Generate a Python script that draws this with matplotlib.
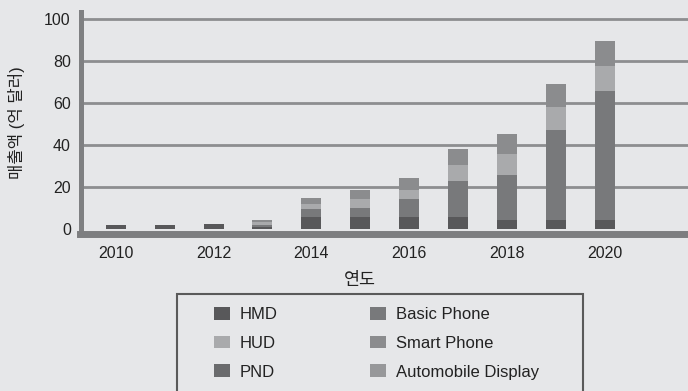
import numpy as np
import matplotlib.pyplot as plt
from matplotlib.patches import Rectangle

plt.rcParams['font.family'] = ['Liberation Sans', 'Noto Sans CJK KR', 'DejaVu Sans']

years = [2010, 2011, 2012, 2013, 2014, 2015, 2016, 2017, 2018, 2019, 2020]

# 매출액 (억 달러), 응용 분야별
hmd = [2.0, 2.0, 2.5, 1.1, 5.7, 5.7, 5.7, 5.7, 4.3, 4.3, 4.3]
pnd = [0, 0, 0, 0, 0, 0, 0, 0, 0, 0, 0]
basic_phone = [0, 0, 0, 1.0, 3.8, 4.3, 8.6, 17.1, 21.4, 42.9, 61.4]
hud = [0, 0, 0, 1.0, 2.4, 4.3, 4.3, 7.6, 10.0, 11.0, 12.0]
smart_phone = [0, 0, 0, 1.3, 2.9, 4.3, 5.7, 7.6, 9.5, 11.0, 11.8]
auto_display = [0, 0, 0, 0, 0, 0, 0, 0, 0, 0, 0]

yticks = [0, 20, 40, 60, 80, 100]
xticks = [2010, 2012, 2014, 2016, 2018, 2020]

bg = '#e6e7e9'
fig = plt.figure(figsize=(6.88, 3.91), dpi=100, facecolor=bg)
ax = fig.add_axes([80.5/688, 1-233.5/391, 1-80.5/688, (233.5-12)/391])
ax.set_facecolor(bg)

# 아래에서 위로 쌓는 순서
stack = [
    ('HMD', hmd, '#58585a'),
    ('PND', pnd, '#6a6b6d'),
    ('Basic Phone', basic_phone, '#78797b'),
    ('HUD', hud, '#a9aaac'),
    ('Smart Phone', smart_phone, '#8b8c8e'),
    ('Automobile Display', auto_display, '#97989a'),
]
bars = {}
bottom = np.zeros(len(years))
for name, vals, col in stack:
    bars[name] = ax.bar(years, vals, width=0.41, bottom=bottom, color=col,
                        linewidth=0, zorder=3, label=name)
    bottom += np.array(vals)

for y in yticks[1:]:
    ax.axhline(y, color='#8d8e90', lw=2.0, zorder=1)

ax.set_xlim(2009.28, 2021.7)
ax.set_ylim(-2.14, 103.3)
ax.set_yticks(yticks)
ax.set_xticks(xticks)
ax.tick_params(length=0, labelsize=11.5, colors='#222222')
ax.tick_params(axis='x', pad=9)
ax.tick_params(axis='y', pad=7)

for s in ['top', 'right']:
    ax.spines[s].set_visible(False)
ax.spines['left'].set_linewidth(3.6)
ax.spines['left'].set_color('#7f8082')
ax.spines['bottom'].set_linewidth(5)
ax.spines['bottom'].set_color('#7d7e80')
ax.spines['left'].set_zorder(4)
ax.spines['bottom'].set_zorder(4)

fig.text(17/688, 1-123/391, '매출액 (억 달러)', rotation=90, ha='center', va='center',
         fontsize=12, color='#222222')
fig.text(360/688, 1-280/391, '연도', ha='center', va='center', fontsize=12.5, color='#222222')

# 범례 테두리 (아래쪽은 그림 밖으로 이어짐)
fig.patches.append(Rectangle((177/688, -0.1), (583-177)/688, (1-293.5/391)+0.1,
                             transform=fig.transFigure, fill=False,
                             edgecolor='#5a5a5a', linewidth=1.5))

order = ['HMD', 'HUD', 'PND', 'Basic Phone', 'Smart Phone', 'Automobile Display']
fig.legend([bars[n] for n in order], order, ncol=2, loc='upper left',
           bbox_to_anchor=(214/688, 1-307/391), frameon=False, borderpad=0,
           borderaxespad=0, fontsize=12, handlelength=0.96, handleheight=0.78,
           handletextpad=0.55, labelspacing=0.82, columnspacing=5.6,
           labelcolor='#222222')

plt.savefig('out.png', dpi=100, facecolor=bg)
